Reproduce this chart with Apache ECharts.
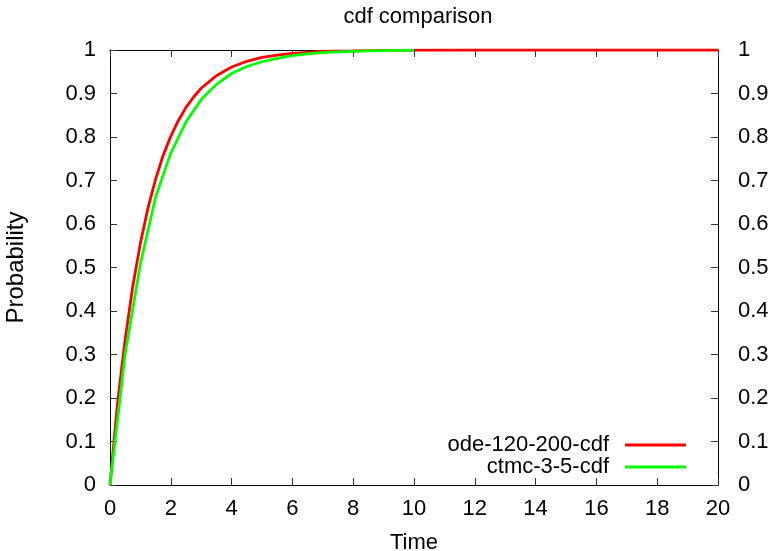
<!DOCTYPE html>
<html>
<head>
<meta charset="utf-8">
<script src="https://cdn.jsdelivr.net/npm/echarts@6/dist/echarts.min.js"></script>
<style>
  html, body { margin: 0; padding: 0; background: #fff; }
  #cdfChart { width: 772px; height: 551px; }
</style>
</head>
<body>
<div id="cdfChart"></div>
<script>
// cdf comparison: ode vs ctmc
const xTicks = [0, 2, 4, 6, 8, 10, 12, 14, 16, 18, 20];
const yTicks = [0, 0.1, 0.2, 0.3, 0.4, 0.5, 0.6, 0.7, 0.8, 0.9, 1];

const odeTime = [0, 0.25, 0.5, 0.75, 1, 1.25, 1.5, 1.75, 2, 2.25, 2.5, 2.75, 3, 3.5, 4, 4.5, 5, 5.5, 6, 7, 8, 9, 10, 12, 14, 16, 18, 20];
const odeProb = [0, 0.19, 0.336, 0.457, 0.556, 0.637, 0.703, 0.758, 0.802, 0.838, 0.868, 0.892, 0.912, 0.941, 0.961, 0.974, 0.983, 0.988, 0.992, 0.997, 0.998, 0.9993, 0.9997, 1, 1, 1, 1, 1];

const ctmcTime = [0, 0.5, 1, 1.5, 2, 2.5, 3, 3.5, 4, 4.5, 5, 5.5, 6, 6.5, 7, 7.5, 8, 8.5, 9, 9.5, 10];
const ctmcProb = [0, 0.302, 0.508, 0.662, 0.763, 0.835, 0.886, 0.921, 0.946, 0.962, 0.973, 0.981, 0.987, 0.991, 0.994, 0.9955, 0.997, 0.998, 0.9985, 0.999, 0.9993];

const seriesNames = ['ode-120-200-cdf', 'ctmc-3-5-cdf'];
const colors = ['#ff0000', '#00ff00'];

const FONT = '"Liberation Sans", Arial, Helvetica, sans-serif';
const FS = 22;

let myChart = echarts.init(document.getElementById('cdfChart'));

const pairs = (xs, ys) => xs.map((x, i) => [x, ys[i]]);

const xBase = {
  type: 'value',
  min: xTicks[0],
  max: xTicks[xTicks.length - 1],
  interval: xTicks[1] - xTicks[0],
  splitLine: { show: false },
  axisLine: { show: true, onZero: false, lineStyle: { color: '#000', width: 1 } },
  axisTick: { show: true, inside: true, length: 7, lineStyle: { color: '#333', width: 1 } },
};
const yBase = {
  type: 'value',
  min: yTicks[0],
  max: yTicks[yTicks.length - 1],
  interval: 0.1,
  splitLine: { show: false },
  axisLine: { show: true, onZero: false, lineStyle: { color: '#000', width: 1 } },
  axisTick: { show: true, inside: true, length: 7, lineStyle: { color: '#333', width: 1 } },
};

const option = {
  backgroundColor: '#fff',
  animation: false,
  title: {
    text: 'cdf comparison',
    left: 413,
    textAlign: 'center',
    top: 1,
    textStyle: { color: '#000', fontSize: FS, fontWeight: 'normal', fontFamily: FONT },
  },
  legend: {
    orient: 'vertical',
    align: 'right',
    right: 81,
    top: 429,
    itemGap: 0,
    itemWidth: 61,
    itemHeight: 3,
    icon: 'rect',
    data: seriesNames,
    textStyle: { color: '#000', fontSize: FS, fontFamily: FONT, padding: [0, 11, 0, 0] },
  },
  grid: { left: 110, right: 54, top: 50, bottom: 66, outerBoundsMode: 'none' },
  xAxis: [
    Object.assign({}, xBase, {
      position: 'bottom',
      name: 'Time',
      nameLocation: 'middle',
      nameGap: 47,
      nameTextStyle: { color: '#000', fontSize: FS, fontFamily: FONT },
      axisLabel: { color: '#000', fontSize: FS, fontFamily: FONT, margin: 13 },
    }),
    Object.assign({}, xBase, {
      position: 'top',
      axisLabel: { show: false },
    }),
  ],
  yAxis: [
    Object.assign({}, yBase, {
      position: 'left',
      name: 'Probability',
      nameLocation: 'middle',
      nameGap: 82,
      nameTextStyle: { color: '#000', fontSize: 24, fontFamily: FONT },
      axisLabel: { color: '#000', fontSize: FS, fontFamily: FONT, margin: 14 },
    }),
    Object.assign({}, yBase, {
      position: 'right',
      axisLabel: { color: '#000', fontSize: FS, fontFamily: FONT, margin: 20 },
    }),
  ],
  series: [
    {
      name: seriesNames[0],
      type: 'line',
      showSymbol: false,
      symbol: 'none',
      lineStyle: { color: colors[0], width: 2.8 },
      itemStyle: { color: colors[0] },
      data: pairs(odeTime, odeProb),
    },
    {
      name: seriesNames[1],
      type: 'line',
      showSymbol: false,
      symbol: 'none',
      lineStyle: { color: colors[1], width: 2.8 },
      itemStyle: { color: colors[1] },
      data: pairs(ctmcTime, ctmcProb),
    },
  ],
};
myChart.setOption(option);
window.addEventListener('resize', myChart.resize);
</script>
</body>
</html>
